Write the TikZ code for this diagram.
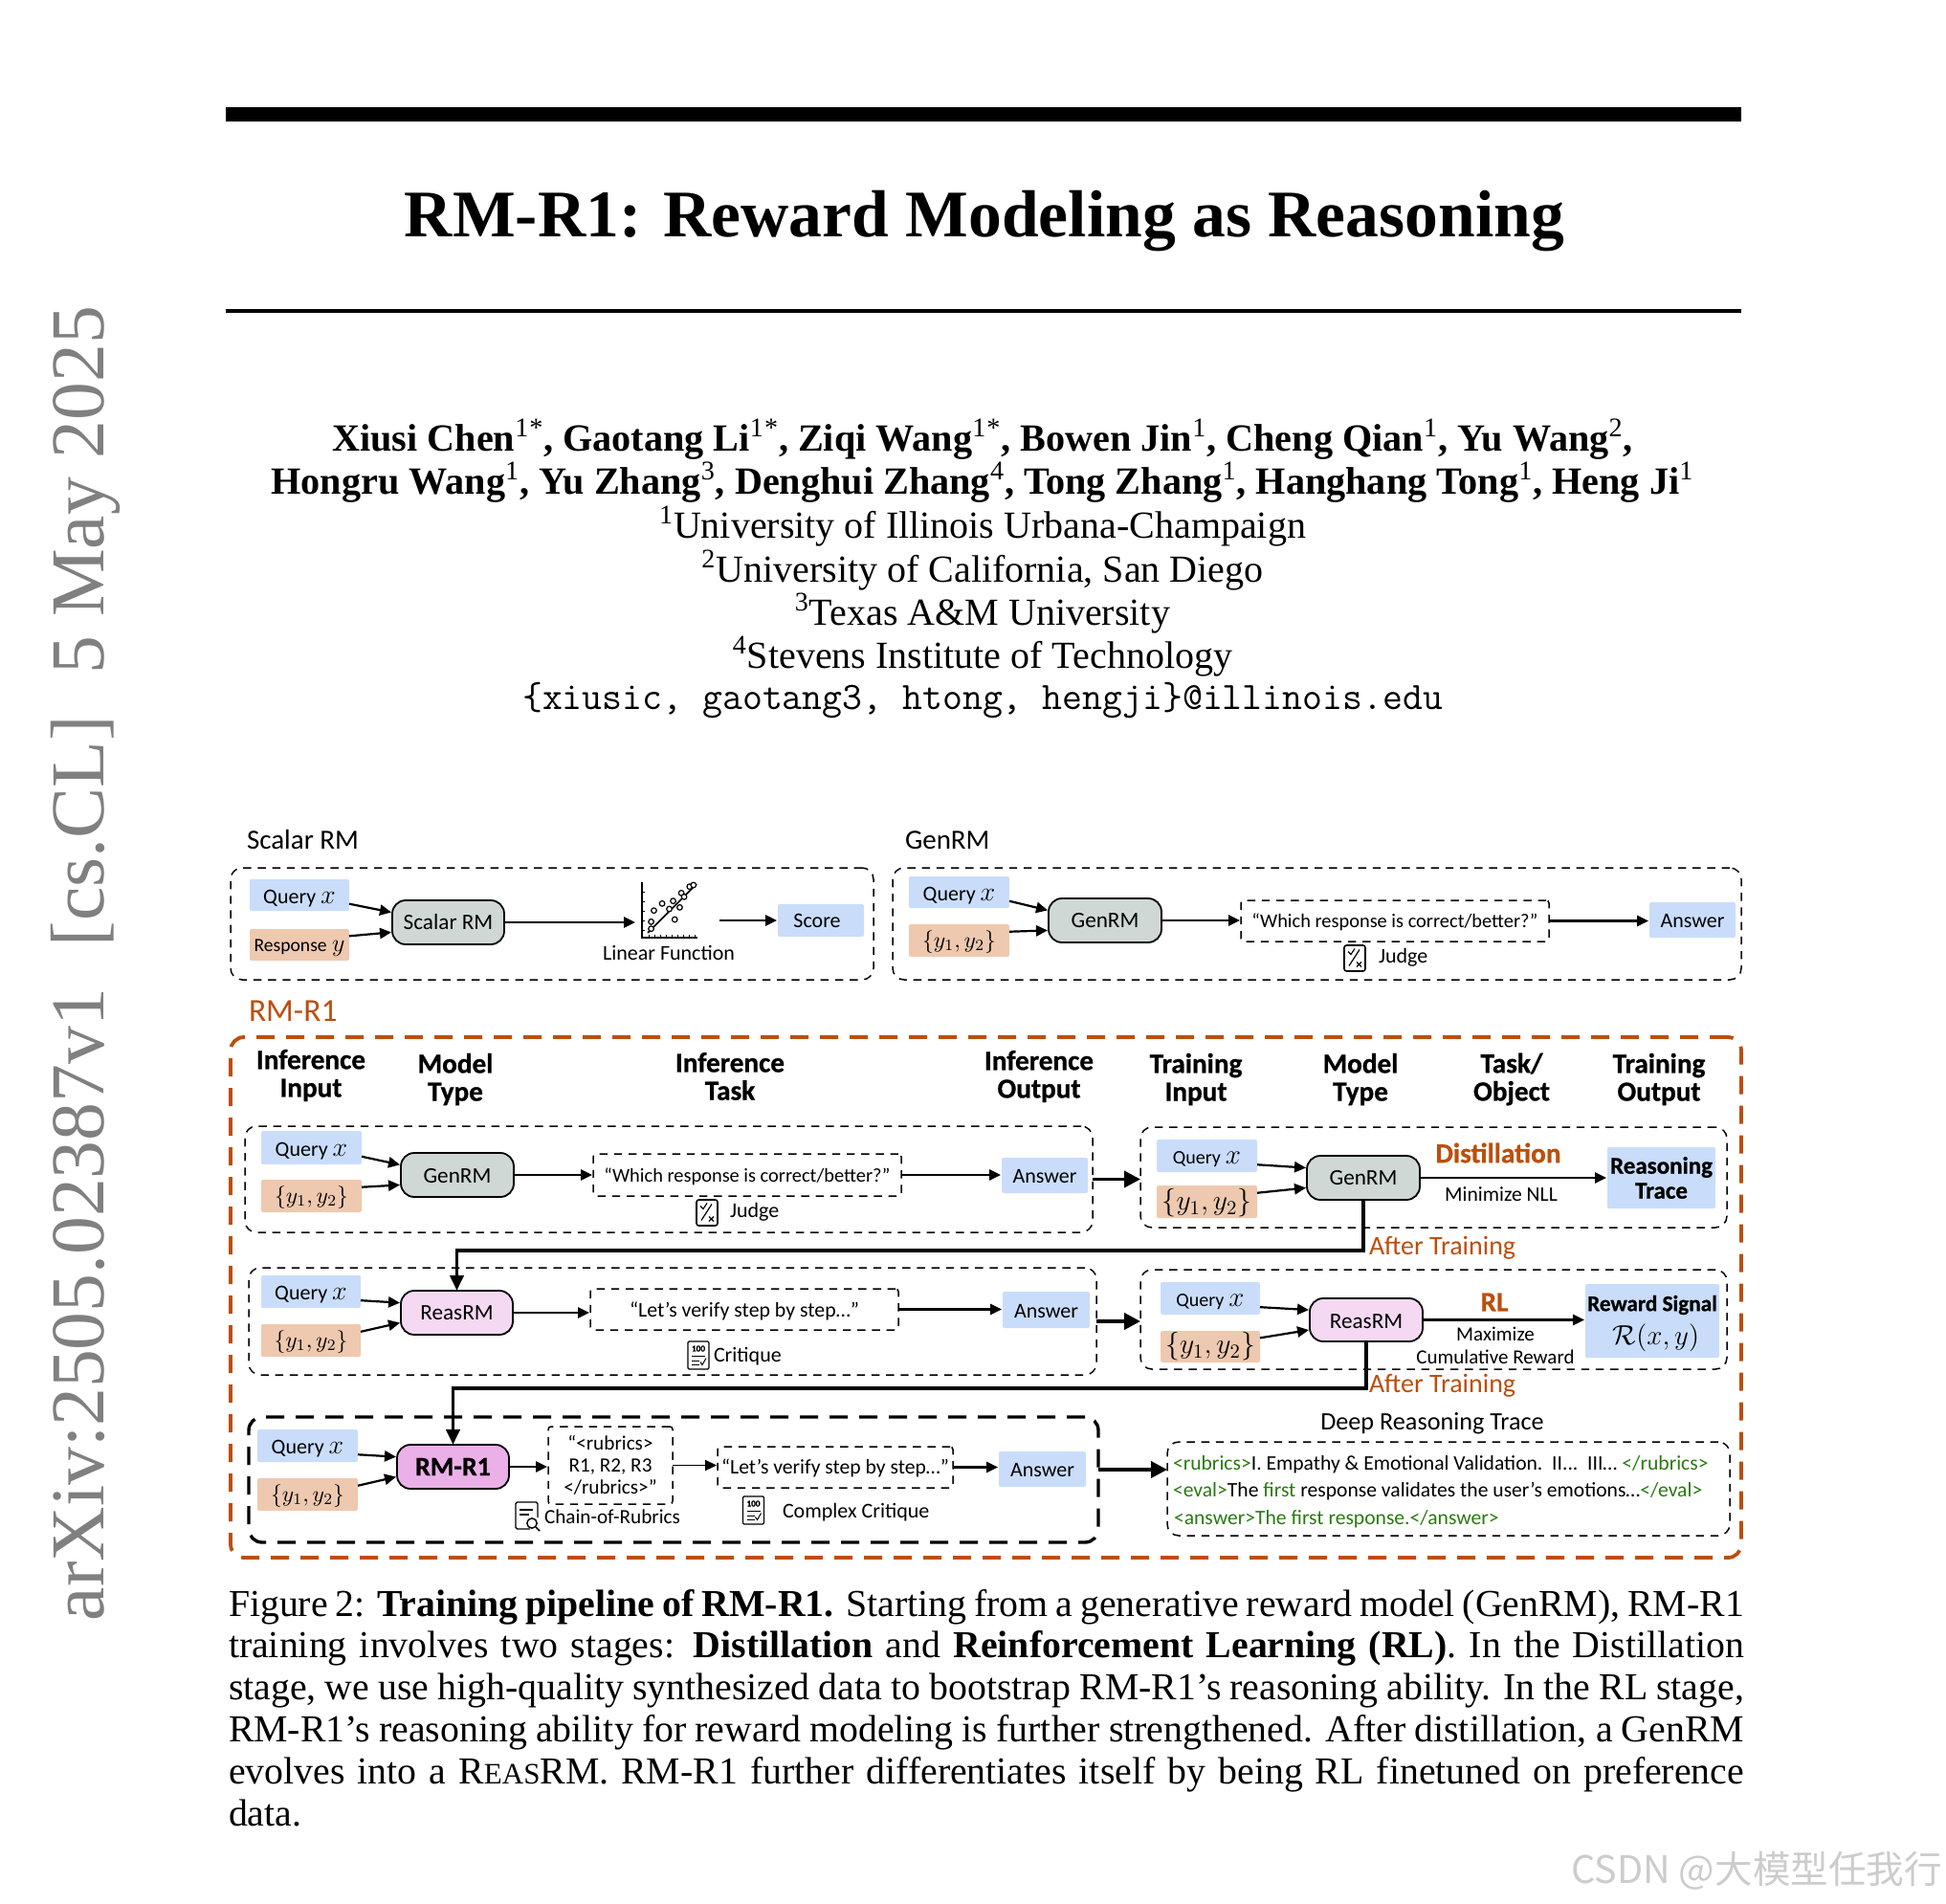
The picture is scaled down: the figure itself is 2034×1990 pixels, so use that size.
\documentclass[tikz,border=0pt]{standalone}
\usepackage{fix-cm}
\usepackage{fontspec}
\usetikzlibrary{arrows.meta,calc}
\setmainfont{Liberation Serif}
\newfontfamily\dg{Carlito}
\newfontfamily\dgb[FakeBold=0.8]{Carlito Bold}
\newfontfamily\cjk{Noto Sans CJK SC}
\definecolor{qblue}{HTML}{C9DDFB}
\definecolor{ypeach}{HTML}{EEC9AF}
\definecolor{mgray}{HTML}{CFD8D5}
\definecolor{mpink}{HTML}{F5D9F3}
\definecolor{mviolet}{HTML}{EBB0E8}
\definecolor{rust}{HTML}{BB4F0C}
\definecolor{tgreen}{HTML}{2A7A12}
\newcommand\FS[1]{\fontsize{#1}{#1}\selectfont}
\newcommand\SUP[1]{\textsuperscript{\normalfont #1}}
\newcommand\LOW[1]{\raisebox{-.7pt}[\height][\depth]{#1}}
\newcommand\QX{\raisebox{-1.6pt}[\height][\depth]{{\FS{11}Query} {\FS{14}$x$}}}
\newcommand\QS{\raisebox{-1.6pt}[\height][\depth]{{\FS{10}Query} {\FS{14.5}$x$}}}
\newcommand\BX[7]{\node[#1,minimum width={(#4-#3)*0.5pt},minimum height={(#6-#5)*0.5pt}] (#2) at ({(#3+#4)/2},{(#5+#6)/2}) {#7};}
\newcommand\INS[3]{\draw[arr] (#1.-10) -- (#3.170); \draw[arr] (#2.10) -- (#3.190);}
\newcommand\HARR[2]{\draw[arr] (#1.east) -- (#1.east -| #2.west);}
\newcommand\BIG[2]{\draw[bigarr] (#1.east) -- (#1.east -| #2.west);}
\newcommand\JudgeIcon[2]{\begin{scope}[shift={(#1,#2)}]
\draw[line width=.8pt,rounded corners=1.2pt] (-11,-13.5) rectangle (11,13.5);
\draw[line width=.6pt] (-6,8) -- (5,-9);
\draw[line width=.6pt] (-7,-7) -- (-4,-4) -- (0,-10);
\draw[line width=.6pt] (2,4) -- (7,9) (7,4) -- (2,9);
\end{scope}}
\newcommand\CritIcon[3]{\begin{scope}[shift={(#1,#2)}]
\draw[line width=.6pt,rounded corners=.6pt] (-11,-14.5) rectangle (11,14.5);
\node[inner sep=0,font=\dgb\FS{4.6}] (#3) at (0,-7) {100};
\draw[line width=.5pt] (-7,1) -- (7,1) (-7,6) -- (1,6) (-7,10) -- (1,10);
\draw[line width=.5pt] (2,7) -- (4,10) -- (8,3);
\end{scope}}
\newcommand\ChainIcon[2]{\begin{scope}[shift={(#1,#2)}]
\draw[line width=.7pt,rounded corners=.8pt] (3,14) -- (-12,14) -- (-12,-14) -- (11,-14) -- (11,2);
\draw[line width=.6pt] (-8,-6) -- (6,-6) (-8,-1) -- (2,-1);
\draw[line width=.7pt] (5,8) circle[radius=2.6pt];
\draw[line width=.8pt] (9,12) -- (13,16);
\end{scope}}
\tikzset{
 x=0.5pt,y=-0.5pt,
 every node/.style={inner sep=0pt,outer sep=0pt},
 lab/.style={font=\dg\FS{11},align=center},
 head/.style={font=\dgb\FS{14.6},align=center},
 big/.style={font=\dg\FS{14.5}},
 qbox/.style={fill=qblue,rounded corners=1pt,lab},
 ybox/.style={fill=ypeach,rounded corners=1pt,font=\dg\FS{11.8},align=center},
 modelbox/.style={draw=black,line width=.9pt,rounded corners=7pt,font=\dg\FS{11.6},align=center},
 grp/.style={draw=black,line width=.75pt,dash pattern=on 4.2pt off 3.4pt,rounded corners=6pt},
 taskbox/.style={draw=black,line width=.75pt,dash pattern=on 4.2pt off 3.4pt,rounded corners=1.5pt,lab},
 grpo/.style={draw=rust,line width=1.9pt,dash pattern=on 9.5pt off 6pt,rounded corners=7pt},
 grpk/.style={draw=black,line width=1.7pt,dash pattern=on 9.5pt off 6pt,rounded corners=7pt},
 arr/.style={-{Triangle[length=6pt,width=5.6pt]},line width=1.1pt,shorten >=.5pt},
 bigarr/.style={-{Triangle[length=8.5pt,width=8.5pt]},line width=1.9pt},
 rail/.style={-{Triangle[length=8pt,width=7pt]},line width=1.9pt},
 trace/.style={font=\dg\FS{10.8},anchor=west,text=black},
 aftert/.style={font=\dg\FS{14},text=rust,anchor=west},
 critq/.style={font=\dgb\FS{14.6},text=rust},
}
\begin{document}
\begin{tikzpicture}
\useasboundingbox (0,0) rectangle (2034,1990);
% page
\fill[black] (236,112) rectangle (1820,127);
\fill[black] (236,323) rectangle (1820,327);
\node[font=\bfseries\FS{34.8}] (title) at (1029,231) {RM-R1: Reward Modeling as Reasoning};
\node[font=\bfseries\FS{20.1}] (au1) at (1027,459) {Xiusi Chen\SUP{1}\SUP{*}, Gaotang Li\SUP{1}\SUP{*}, Ziqi Wang\SUP{1}\SUP{*}, Bowen Jin\SUP{1}, Cheng Qian\SUP{1}, Yu Wang\SUP{2},};
\node[font=\bfseries\FS{20.1}] (au2) at (1027,504) {Hongru Wang\SUP{1}, Yu Zhang\SUP{3}, Denghui Zhang\SUP{4}, Tong Zhang\SUP{1}, Hanghang Tong\SUP{1}, Heng Ji\SUP{1}};
\node[font=\FS{20}] (af1) at (1027,550) {\textsuperscript{1}University of Illinois Urbana-Champaign};
\node[font=\FS{20}] (af2) at (1027,596) {\textsuperscript{2}University of California, San Diego};
\node[font=\FS{20}] (af3) at (1027,641) {\textsuperscript{3}Texas A\&M University};
\node[font=\FS{20}] (af4) at (1027,686) {\textsuperscript{4}Stevens Institute of Technology};
\node[font=\ttfamily\FS{20.3}] (mail) at (1027,732) {\{xiusic, gaotang3, htong, hengji\}@illinois.edu};
\node[rotate=90,text=black!50,font=\FS{39.8}] (stamp) at (89,1007) {arXiv:2505.02387v1\hspace{.3em} [cs.CL]\hspace{.3em} 5 May 2025};
\node[text=black!20,font=\cjk\FS{19.8},anchor=east] (wm) at (2030,1955) {CSDN @大模型任我行};
\node[anchor=north west,text width=792pt,align=justify,font=\fontsize{19.9}{21.9}\selectfont] (cap) at (239,1661) {Figure 2: \textbf{Training pipeline of RM-R1.} Starting from a generative reward model (GenRM), RM-R1\linebreak training involves two stages: \textbf{Distillation} and \textbf{Reinforcement Learning (RL)}. In the Distillation\linebreak stage, we use high-quality synthesized data to bootstrap RM-R1’s reasoning ability. In the RL stage,\linebreak RM-R1’s reasoning ability for reward modeling is further strengthened. After distillation, a GenRM\linebreak evolves into a R{\FS{15.5}EAS}RM. RM-R1 further differentiates itself by being RL finetuned on preference\linebreak data.};
% Scalar RM
\node[big,anchor=west] (lscal) at (258,878) {Scalar RM};
\BX{grp}{gs}{241}{913}{907}{1024}{}
\BX{qbox}{sq}{261}{365}{919}{952}{\QX}
\BX{ybox}{sy}{261}{365}{971}{1004}{\raisebox{-1.6pt}[\height][\depth]{{\FS{9.8}Response} {\FS{13}$y$}}}
\BX{modelbox,fill=mgray}{sm}{410}{527}{941}{987}{Scalar RM}
\INS{sq}{sy}{sm}
\BX{}{plot}{665}{752}{922}{1006}{}
\BX{qbox}{score}{813}{903}{945}{979}{Score\hspace*{4pt}}
\node[lab] (linf) at (699,996) {Linear Function};
\draw[arr] (sm.east) -- (sm.east -| plot.west);
\draw[arr] (plot.east |- score.west) -- (score.west);
\begin{scope}
\draw[line width=.8pt] (671,922) -- (671,980) -- (729,980);
\foreach \t in {932,942,...,972} \draw[line width=.5pt] (671,\t) -- (674,\t);
\foreach \t in {678,684,...,726} \draw[line width=.5pt] (\t,980) -- (\t,977);
\draw[line width=.8pt] (677,975) -- (728,924);
\end{scope}
\begin{scope}[shift={(230,850)},x=0.287pt,y=-0.1667pt]
\foreach \p/\q in {785/340,790/305,805/283,828/333,825/275,837/295,840/250,855/230,862/225,818/300,845/262,785/362}
 \draw[line width=.6pt,fill=white] (\p,\q) circle[radius=1.4pt];
\end{scope}
% GenRM top
\node[big,anchor=west] (lgen) at (946,878) {GenRM};
\BX{grp}{gg}{933}{1820}{907}{1024}{}
\BX{qbox}{tq}{950}{1055}{916}{949}{\QX}
\BX{ybox}{ty}{950}{1055}{966}{1000}{\LOW{$\{y_1,y_2\}$}}
\BX{modelbox,fill=mgray}{tm}{1096}{1214}{939}{985}{GenRM}
\INS{tq}{ty}{tm}
\BX{taskbox,font=\dg\FS{10.2}}{tt}{1297}{1619}{941}{984}{\LOW{“Which response is correct/better?”}}
\BX{qbox}{ta}{1724}{1814}{943}{980}{\LOW{Answer}}
\HARR{tm}{tt}
\HARR{tt}{ta}
\JudgeIcon{1416}{1001.5}
\node[lab,anchor=west] (tj) at (1441,1001) {Judge};
% RM-R1
\node[font=\dg\FS{16.8},text=rust,anchor=west] (lrm) at (260,1057) {RM-R1};
\BX{grpo}{go}{241}{1820}{1084}{1628}{}
\node[head] (h1) at (325,1124) {Inference\\Input};
\node[head] (h2) at (476,1128) {Model\\Type};
\node[head] (h3) at (763,1125) {Inference\\Task};
\node[head] (h4) at (1086,1125) {Inference\\Output};
\node[head] (h5) at (1250,1128) {Training\\Input};
\node[head] (h6) at (1422,1128) {Model\\Type};
\node[head] (h7) at (1580,1128) {Task/\\Object};
\node[head] (h8) at (1734,1128) {Training\\Output};
% row 1 left
\BX{grp}{a1}{256}{1142}{1177}{1288}{}
\BX{qbox}{a1q}{273}{378}{1182}{1217}{\QX}
\BX{ybox}{a1y}{273}{378}{1233}{1267}{\LOW{$\{y_1,y_2\}$}}
\BX{modelbox,fill=mgray}{a1m}{419}{537}{1205}{1251}{\LOW{GenRM}}
\INS{a1q}{a1y}{a1m}
\BX{taskbox,font=\dg\FS{10.2}}{a1t}{620}{942}{1206}{1250}{\LOW{“Which response is correct/better?”}}
\BX{qbox}{a1a}{1047}{1137}{1210}{1247}{\LOW{Answer}}
\HARR{a1m}{a1t}
\HARR{a1t}{a1a}
\JudgeIcon{739}{1267.5}
\node[lab,anchor=west] (a1j) at (763,1267) {Judge};
% row 1 right
\BX{grp}{b1}{1192}{1805}{1178}{1283}{}
\BX{qbox}{b1q}{1209}{1314}{1191}{1225}{\QS}
\BX{ybox,font=\dg\FS{14.8}}{b1y}{1209}{1314}{1239}{1273}{\LOW{$\{y_1,y_2\}$}}
\BX{modelbox,fill=mgray}{b1m}{1366}{1484}{1208}{1254}{GenRM}
\INS{b1q}{b1y}{b1m}
\BX{qbox,font=\dgb\FS{12.5}}{b1r}{1680}{1793}{1199}{1263}{Reasoning\\[.5pt]Trace}
\HARR{b1m}{b1r}
\node[critq] (dist) at (1566,1205) {Distillation};
\node[font=\dg\FS{10.8}] (nll) at (1569,1248) {Minimize NLL};
\BIG{a1}{b1}
\node[aftert] (at1) at (1431,1304) {After Training};
% row 2 left
\BX{grp}{a2}{260}{1146}{1325}{1437}{}
\BX{qbox}{a2q}{273}{377}{1333}{1367}{\QX}
\BX{ybox}{a2y}{273}{377}{1384}{1418}{\LOW{$\{y_1,y_2\}$}}
\BX{modelbox,fill=mpink}{a2m}{419}{536}{1349}{1395}{ReasRM}
\INS{a2q}{a2y}{a2m}
\BX{taskbox,font=\dg\FS{10.9}}{a2t}{617}{939}{1347}{1390}{\LOW{“Let’s verify step by step…”}}
\BX{qbox}{a2a}{1048}{1139}{1350}{1388}{\LOW{Answer}}
\HARR{a2m}{a2t}
\HARR{a2t}{a2a}
\CritIcon{730}{1416.5}{c100a}
\node[lab,anchor=west] (a2c) at (746,1418) {Critique};
% row 2 right
\BX{grp}{b2}{1192}{1805}{1327}{1431}{}
\BX{qbox}{b2q}{1213}{1317}{1340}{1374}{\QS}
\BX{ybox,font=\dg\FS{14.8}}{b2y}{1213}{1317}{1391}{1424}{$\{y_1,y_2\}$}
\BX{modelbox,fill=mpink}{b2m}{1369}{1487}{1357}{1402}{\LOW{ReasRM}}
\INS{b2q}{b2y}{b2m}
\BX{qbox}{b2r}{1657}{1797}{1342}{1419}{}
\HARR{b2m}{b2r}
\node[font=\dgb\FS{11.6}] (rs) at (1727,1364) {Reward Signal};
\node[font=\dg\FS{14.5}] (rf) at (1731,1398) {$\mathcal{R}(x,y)$};
\node[critq] (rl) at (1562,1361) {RL};
\node[font=\dg\FS{10.5}] (mx) at (1563,1394) {Maximize};
\node[font=\dg\FS{10.5}] (cr) at (1563,1418) {Cumulative Reward};
\BIG{a2}{b2}
\node[aftert] (at2) at (1431,1448) {After Training};
% row 3
\BX{grpk}{a3}{260}{1148}{1481}{1612}{}
\BX{qbox}{a3q}{269}{374}{1494}{1528}{\QX}
\BX{ybox}{a3y}{269}{374}{1545}{1579}{\LOW{$\{y_1,y_2\}$}}
\BX{modelbox,fill=mviolet,font=\dgb\FS{14}}{a3m}{415}{532}{1510}{1556}{RM-R1}
\INS{a3q}{a3y}{a3m}
\BX{taskbox,font=\dg\FS{10.6}}{a3r}{573}{703}{1491}{1572}{“<rubrics>\\[1pt]R1, R2, R3\\[1pt]</rubrics>”}
\BX{taskbox,font=\dg\FS{10.8}}{a3t}{750}{996}{1512}{1555}{\LOW{“Let’s verify step by step…”}}
\BX{qbox}{a3a}{1044}{1135}{1517}{1554}{\LOW{Answer}}
\draw[arr] (a3m.east) -- (a3m.east -| a3r.west);
\draw[arr,line width=.7pt] (a3r.east) -- (a3r.east -| a3t.west);
\HARR{a3t}{a3a}
\ChainIcon{551}{1584}
\node[font=\dg\FS{10.6},anchor=west] (a3c) at (569,1585) {Chain-of-Rubrics};
\CritIcon{787.5}{1578.5}{c100b}
\node[lab,anchor=west] (a3d) at (818,1581) {Complex Critique};
\node[font=\dg\FS{13.1}] (drt) at (1497,1488) {Deep Reasoning Trace};
\BX{grp}{b3}{1220}{1808}{1507}{1605}{}
\node[trace] (tr1) at (1226,1531) {\textcolor{tgreen}{<rubrics>}I. Empathy \& Emotional Validation.\ \ II...\ \ III… \textcolor{tgreen}{</rubrics>}};
\node[trace] (tr2) at (1226,1559) {\textcolor{tgreen}{<eval>}The \textcolor{tgreen}{first} response validates the user’s emotions…\textcolor{tgreen}{</eval>}};
\node[trace,text=tgreen] (tr3) at (1227,1588) {<answer>The first response.</answer>};
\coordinate (s3) at (1148,1536);
\draw[bigarr] (s3) -- (s3 -| b3.west);
% training rails
\coordinate (t1) at (0,1307);
\coordinate (t2) at (0,1451);
\draw[rail] (b1m.south) -- (b1m.south |- t1) -- (t1 -| a2m.north) -- (a2m.north);
\draw[rail] (b2m.south) -- (b2m.south |- t2) -- (t2 -| a3m.north) -- (a3m.north);
\end{tikzpicture}
\end{document}
